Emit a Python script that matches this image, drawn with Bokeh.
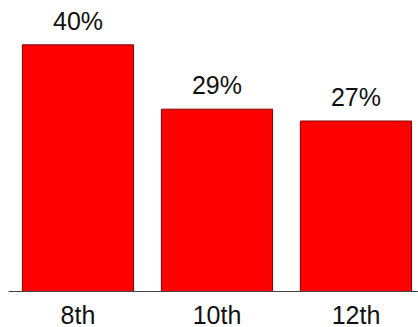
from bokeh.plotting import figure
from bokeh.models import ColumnDataSource, Range1d, FixedTicker
from bokeh.core.properties import value
from bokeh.embed import file_html
from bokeh.resources import INLINE

grades = ["8th", "10th", "12th"]
shares = [39.5, 29.2, 27.3]
share_labels = ["40%", "29%", "27%"]

xpos = [i + 0.5 for i in range(len(grades))]
src = ColumnDataSource(data=dict(x=xpos, top=shares, lab=share_labels))

p = figure(frame_width=410, frame_height=291, output_backend="svg", toolbar_location=None,
           x_range=Range1d(0, 2.95), y_range=Range1d(0, 46.6),
           min_border_left=8, min_border_right=0, min_border_top=0, min_border_bottom=0,
           y_axis_type=None)
p.vbar(x="x", top="top", width=0.8, bottom=0, source=src,
       fill_color="#FF0000", line_color="#800000", line_width=1)
p.text(x="x", y="top", text="lab", source=src, text_align="center",
       text_baseline="alphabetic", y_offset=-24,
       text_font=value("Liberation Sans"), text_font_size="25px", text_color="#111111")

p.xaxis.ticker = FixedTicker(ticks=xpos)
p.xaxis.major_label_overrides = {x: g for x, g in zip(xpos, grades)}
p.xaxis.major_tick_out = 0
p.xaxis.major_tick_in = 0
p.xaxis.minor_tick_out = 0
p.xaxis.minor_tick_in = 0
p.xaxis.major_label_standoff = 9
p.xaxis.major_label_text_font = "Liberation Sans"
p.xaxis.major_label_text_font_size = "25px"
p.xaxis.major_label_text_color = "#111111"
p.xaxis.axis_line_color = "#444444"
p.xaxis.axis_line_width = 1
p.xgrid.visible = False
p.ygrid.visible = False
p.outline_line_color = None

open("out.html", "w").write(file_html(p, INLINE))
